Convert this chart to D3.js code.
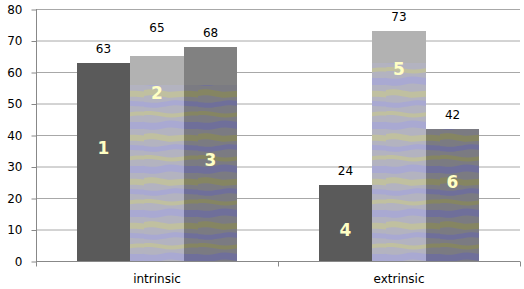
<!DOCTYPE html>
<html>
<head>
<meta charset="utf-8">
<script src="https://cdn.jsdelivr.net/npm/d3@7"></script>
<style>
  body { margin: 0; background: #fff; }
  svg { display: block; font-family: "DejaVu Sans", Verdana, sans-serif; }
</style>
</head>
<body>
<svg id="chart" width="524" height="289"></svg>
<script>
// chart data
const categories = ["intrinsic", "extrinsic"];
const seriesIds = [0, 1, 2];
const values = [[63, 65, 68], [24, 73, 42]];
const barNames = [["1", "2", "3"], ["4", "5", "6"]];
// value (in axis units) where each bar's name sits
const namePos = [[36, 53.5, 32], [10, 61, 25]];
// value where the textured fill starts below the grey cap (null = none)
const capFrom = [[null, 56, 56], [null, 63, null]];
const yTicks = [0, 10, 20, 30, 40, 50, 60, 70, 80];

const svg = d3.select("#chart");
const plotLeft = 36, plotRight = 520, plotTop = 9, plotBottom = 261;

const y = d3.scaleLinear().domain([0, 80]).range([plotBottom, plotTop]);
const x0 = d3.scaleBand().domain(categories).range([plotLeft, plotRight]);
const x1 = d3.scaleBand().domain(seriesIds).range([0, x0.bandwidth()])
    .paddingInner(0).paddingOuter(0.76);

/* irregular wavy streak textures */
const defs = svg.append("defs");
const band = (pts, h) => d3.area().curve(d3.curveBasis)
    .x(d => d[0]).y0(d => d[1]).y1(d => d[1] + h)(pts);
const streaks = (id, base, a, b) => {
    const p = defs.append("pattern").attr("id", id)
        .attr("width", 54).attr("height", 44)
        .attr("patternUnits", "userSpaceOnUse");
    p.append("rect").attr("width", 54).attr("height", 44).attr("fill", base);
    p.append("path").attr("fill", a)
        .attr("d", band([[-6, 3], [10, 0], [24, 5], [40, 2], [60, 4]], 6));
    p.append("path").attr("fill", b)
        .attr("d", band([[-6, 13], [14, 16], [30, 11], [46, 14], [60, 13]], 5));
    p.append("path").attr("fill", a)
        .attr("d", band([[-6, 24], [8, 22], [28, 27], [44, 23], [60, 24]], 4));
    p.append("path").attr("fill", b)
        .attr("d", band([[-6, 33], [12, 36], [26, 31], [42, 35], [60, 33]], 7));
};
streaks("d0", "#5a5a5a", "#5a5a5a", "#5a5a5a");
streaks("d1", "#b3b3c0", "#c0c0a0", "#a9a9d2");
streaks("d2", "#7b7b82", "#858562", "#6f6f9a");
const capColor = ["#5a5a5a", "#b2b2b2", "#818181"];

// gridlines
svg.append("g").selectAll("line")
    .data(yTicks.slice(1))
    .join("line")
        .attr("x1", plotLeft).attr("x2", plotRight)
        .attr("y1", d => y(d) + 0.5).attr("y2", d => y(d) + 0.5)
        .attr("stroke", "#a8a8a8");

// y axis
const yAxis = svg.append("g")
    .attr("transform", `translate(${plotLeft + 0.5},0.5)`)
    .call(d3.axisLeft(y).tickValues(yTicks).tickSize(5).tickPadding(9));
yAxis.select(".domain").attr("stroke", "#888").attr("d", `M0,${plotTop - 0.5}V${plotBottom}`);
yAxis.selectAll(".tick line").attr("stroke", "#888");
yAxis.selectAll("text").attr("font-size", 12).attr("fill", "#000")
    .attr("font-family", "DejaVu Sans, sans-serif");

// bars
const groups = svg.append("g").selectAll("g")
    .data(categories)
    .join("g")
        .attr("transform", d => `translate(${x0(d)},0)`);

const bars = groups.selectAll("g")
    .data((c, ci) => seriesIds.map(s => ({
        s, v: values[ci][s], name: barNames[ci][s], np: namePos[ci][s], cap: capFrom[ci][s]
    })))
    .join("g");

bars.append("rect")
    .attr("x", d => Math.round(x1(d.s)))
    .attr("y", d => Math.round(y(d.v)))
    .attr("width", d => Math.round(x1(d.s) + x1.bandwidth()) - Math.round(x1(d.s)))
    .attr("height", d => Math.round(y(0)) - Math.round(y(d.v)))
    .attr("shape-rendering", "crispEdges")
    .attr("fill", d => `url(#d${d.s})`);

bars.filter(d => d.cap !== null).append("rect")
    .attr("x", d => Math.round(x1(d.s)))
    .attr("y", d => Math.round(y(d.v)))
    .attr("width", d => Math.round(x1(d.s) + x1.bandwidth()) - Math.round(x1(d.s)))
    .attr("height", d => Math.round(y(d.cap)) - Math.round(y(d.v)))
    .attr("shape-rendering", "crispEdges")
    .attr("fill", d => capColor[d.s]);

// value labels
bars.append("text")
    .attr("x", d => x1(d.s) + x1.bandwidth() / 2)
    .attr("y", d => y(d.v) - (d.v === 65 ? 24 : 10))
    .attr("text-anchor", "middle")
    .attr("font-size", 12)
    .text(d => d.v);

// bar names
bars.append("text")
    .attr("x", d => x1(d.s) + x1.bandwidth() / 2)
    .attr("y", d => y(d.np))
    .attr("dy", "0.36em")
    .attr("text-anchor", "middle")
    .attr("font-size", 17)
    .attr("font-weight", "bold")
    .attr("fill", "#ffffc4")
    .text(d => d.name);

// x axis
const xAxis = svg.append("g")
    .attr("transform", `translate(0,${plotBottom + 0.5})`);
xAxis.append("line")
    .attr("x1", plotLeft).attr("x2", plotRight)
    .attr("stroke", "#888");
xAxis.selectAll(".tk")
    .data([plotLeft, x0("extrinsic"), plotRight])
    .join("line")
        .attr("class", "tk")
        .attr("x1", d => Math.round(d) + 0.5).attr("x2", d => Math.round(d) + 0.5)
        .attr("y1", 0).attr("y2", 5)
        .attr("stroke", "#888");
xAxis.selectAll("text")
    .data(categories)
    .join("text")
        .attr("x", d => x0(d) + x0.bandwidth() / 2)
        .attr("y", 21)
        .attr("text-anchor", "middle")
        .attr("font-size", 12)
        .text(d => d);
</script>
</body>
</html>
